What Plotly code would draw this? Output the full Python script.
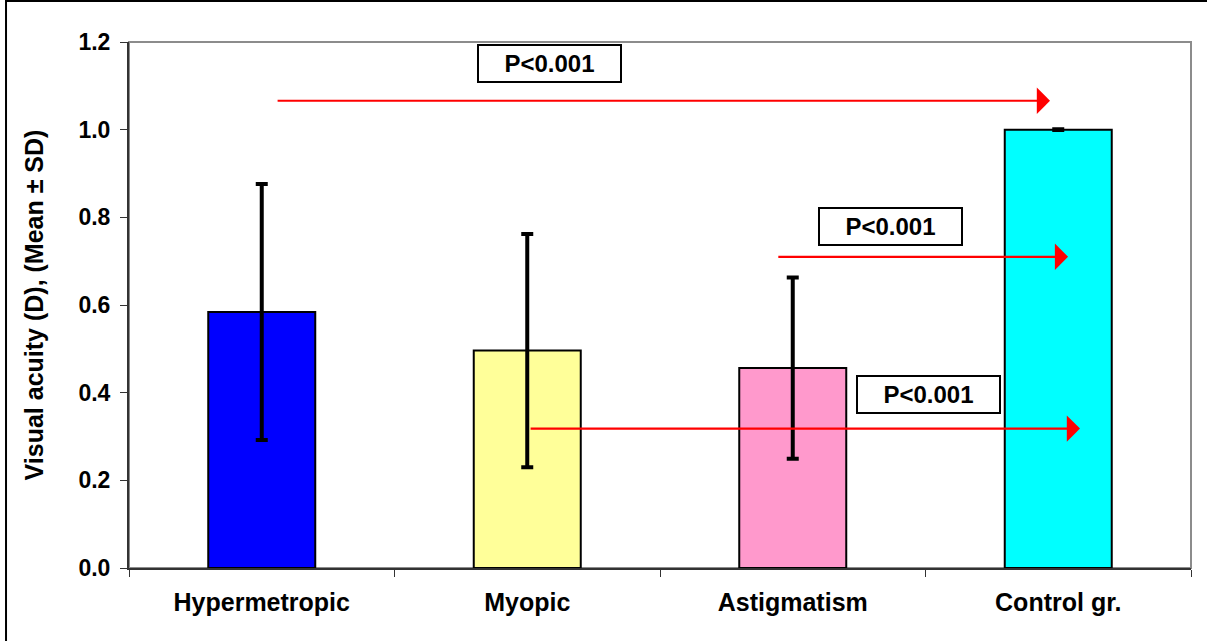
import plotly.graph_objects as go

# Visual acuity by refractive group
groups = ["Hypermetropic", "Myopic", "Astigmatism", "Control gr."]
mean_va = [0.584, 0.496, 0.456, 1.000]
sd_va = [0.292, 0.266, 0.207, 0.001]
bar_colors = ["#0000FF", "#FFFF99", "#FF99CC", "#00FFFF"]

# Comparisons against the control group: (start index, end index, level, label box x, label box y)
comparisons = [
    (0.054, 2.969, 1.066, 1.084, 1.152),
    (1.940, 3.037, 0.710, 2.370, 0.780),
    (1.007, 3.082, 0.318, 2.513, 0.395),
]
p_labels = ["P<0.001", "P<0.001", "P<0.001"]

FONT = "Liberation Sans, Arial, sans-serif"

fig = go.Figure()
fig.add_trace(go.Bar(
    x=groups,
    y=mean_va,
    marker=dict(color=bar_colors, line=dict(color="black", width=2)),
    error_y=dict(type="data", array=sd_va, visible=True,
                 color="black", thickness=4, width=6),
    showlegend=False,
))

for (x0, x1, lvl, bx, by), lab in zip(comparisons, p_labels):
    fig.add_annotation(
        x=x1, y=lvl, ax=x0, ay=lvl,
        xref="x", yref="y", axref="x", ayref="y",
        showarrow=True, arrowhead=1, arrowsize=2.0, arrowwidth=2.2,
        arrowcolor="#FF0000", text="",
    )
    fig.add_annotation(
        x=bx, y=by, xref="x", yref="y", text=lab, showarrow=False,
        font=dict(family=FONT, size=24, color="black", weight="bold"),
        bgcolor="white", bordercolor="black", borderwidth=2,
        width=139, height=33, borderpad=1,
    )

# plot-area frame (grey) and outer chart frame
fig.add_shape(type="rect", xref="paper", yref="paper", x0=0, x1=1, y0=0, y1=1,
              line=dict(color="#8c8c8c", width=2), layer="below")
fig.add_shape(type="rect", xref="paper", yref="paper", x0=-0.1158, x1=1.2,
              y0=-0.5, y1=1.078, line=dict(color="black", width=2), layer="below")

fig.update_layout(
    width=1207, height=641,
    margin=dict(l=129, r=16, t=42, b=73),
    paper_bgcolor="white", plot_bgcolor="white",
    bargap=0.597,
    font=dict(family=FONT, color="black"),
    xaxis=dict(
        showgrid=False, showline=True, linecolor="#333333", linewidth=2,
        ticks="outside", tickson="boundaries", ticklen=7, tickcolor="#333333",
        tickfont=dict(family=FONT, size=25, weight="bold"),
        ticklabelstandoff=11,
    ),
    yaxis=dict(
        range=[0, 1.2], dtick=0.2, tickformat=".1f",
        showgrid=False, zeroline=False, showline=True,
        linecolor="#333333", linewidth=2,
        ticks="outside", ticklen=7, tickcolor="#333333",
        tickfont=dict(family=FONT, size=23, weight="bold"),
        ticklabelstandoff=5,
        title=dict(text="Visual acuity (D), (Mean ± SD)", standoff=28,
                   font=dict(family=FONT, size=25, weight="bold")),
    ),
)

fig.write_html("out.html")
